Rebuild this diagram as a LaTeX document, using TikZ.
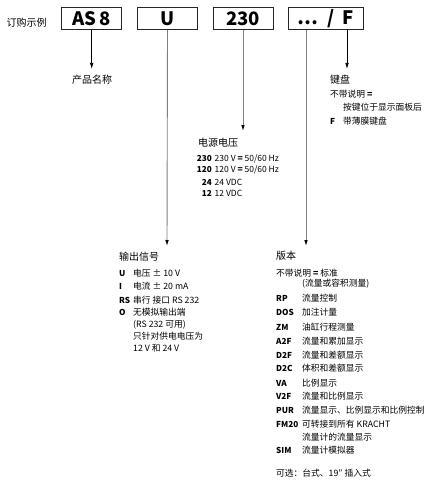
\documentclass[tikz,border=0pt]{standalone}
\usepackage{fontspec}
\setmainfont{Noto Sans CJK SC}
\usetikzlibrary{arrows.meta}

\tikzset{
  codebox/.style={draw=black!85, line width=0.7pt, minimum height=22pt, inner sep=0pt,
    font=\fontsize{18.5}{18}\selectfont\bfseries},
  head/.style={anchor=west, inner sep=0pt, font=\fontsize{10}{12}\selectfont},
  item/.style={anchor=west, inner sep=0pt, font=\fontsize{8.75}{10}\selectfont},
  code/.style={anchor=west, inner sep=0pt, font=\fontsize{8.2}{10}\selectfont\bfseries},
  short/.style={black, line width=0.7pt, -{Latex[length=6pt,width=3.6pt]}},
  long/.style={black!50, line width=0.9pt, -{Latex[black,length=6pt,width=3.6pt]}},
}

\begin{document}
\begin{tikzpicture}[x=1pt,y=-1pt]
\useasboundingbox (0,0) rectangle (439,484);

% order code boxes
\node[head] (order) at (6.5,23) {订购示例};
\node[codebox, minimum width=60pt] (name) at (91.7,18.7) {AS\,8};
\node[codebox, minimum width=60pt] (sig) at (167.5,18.7) {U};
\node[codebox, minimum width=60pt] (volt) at (243,18.7) {230};
\node[codebox, minimum width=75pt] (opt) at (326,18.7) {\dots\ \ /\ \ F};

% arrow ends
\coordinate (nameend) at (91.7,69);
\coordinate (sigend) at (167,246);
\coordinate (voltend) at (243,131);
\coordinate (verend) at (306,246);
\coordinate (keyend) at (347,69);

\draw[short] (name.south) -- (nameend);
\draw[long] (sig.south) -- (sigend);
\draw[long] (volt.south) -- (voltend);
\draw[long] (opt.south -| verend) -- (verend);
\draw[short] (opt.south -| keyend) -- (keyend);

% product name
\node[head] (prod) at (72,80) {产品名称};

% keyboard
\node[head] (key) at (330,80) {键盘};
\node[item] (key0) at (330,94) {不带说明 \textbf{=}};
\node[item] (key1) at (343,107) {按键位于显示面板后};
\node[code] (keyF) at (330,121) {F};
\node[item] (keyFt) at (343,121) {带薄膜键盘};

% supply voltage
\node[head] (sup) at (198,143) {电源电压};
\foreach \c/\t/\y in {230/{230 V \textbf{=} 50/60 Hz}/159, 120/{120 V \textbf{=} 50/60 Hz}/170,
                      24/{24 VDC}/182, 12/{12 VDC}/193}{
  \node[code, anchor=east, font=\fontsize{8.2}{9}\selectfont\bfseries] (sc\c) at (212,\y) {\c};
  \node[item, font=\fontsize{8.5}{9}\selectfont] (st\c) at (214.5,\y) {\t};
}

% output signal
\node[head] (out) at (119,257) {输出信号};
\node[code] (oU) at (119,273) {U};
\node[item] (oUt) at (133,273) {电压 ± 10 V};
\node[code] (oI) at (119,286) {I};
\node[item] (oIt) at (133,286) {电流 ± 20 mA};
\node[code] (oRS) at (119,300) {RS};
\node[item] (oRSt) at (133,300) {串行 接口 RS 232};
\node[code] (oO) at (119,312.5) {O};
\node[item] (oOt) at (133,312.5) {无模拟输出端};
\node[item] (oO2) at (133,324.5) {(RS 232 可用)};
\node[item] (oO3) at (133,336) {只针对供电电压为};
\node[item] (oO4) at (133,348.5) {12 V 和 24 V};

% version
\node[head] (ver) at (276,256) {版本};
\node[item] (v0) at (276,273) {不带说明 \textbf{=} 标准};
\node[item] (v0b) at (302,284) {(流量或容积测量)};
\foreach \c/\t/\y in {RP/流量控制/298, DOS/加注计量/312.5, ZM/油缸行程测量/327,
                      A2F/流量和累加显示/341, D2F/流量和差额显示/355,
                      D2C/体积和差额显示/368, VA/比例显示/383, V2F/流量和比例显示/396,
                      PUR/流量显示、比例显示和比例控制/410.5,
                      FM20/可转接到所有 KRACHT/424, SIM/流量计模拟器/450}{
  \node[code] (vc\c) at (276,\y) {\c};
  \node[item] (vt\c) at (302,\y) {\t};
}
\node[item] (vFM2) at (302,437) {流量计的流量显示};
\node[item] (vopt) at (276,473) {可选：台式、19″ 插入式};
\end{tikzpicture}
\end{document}
